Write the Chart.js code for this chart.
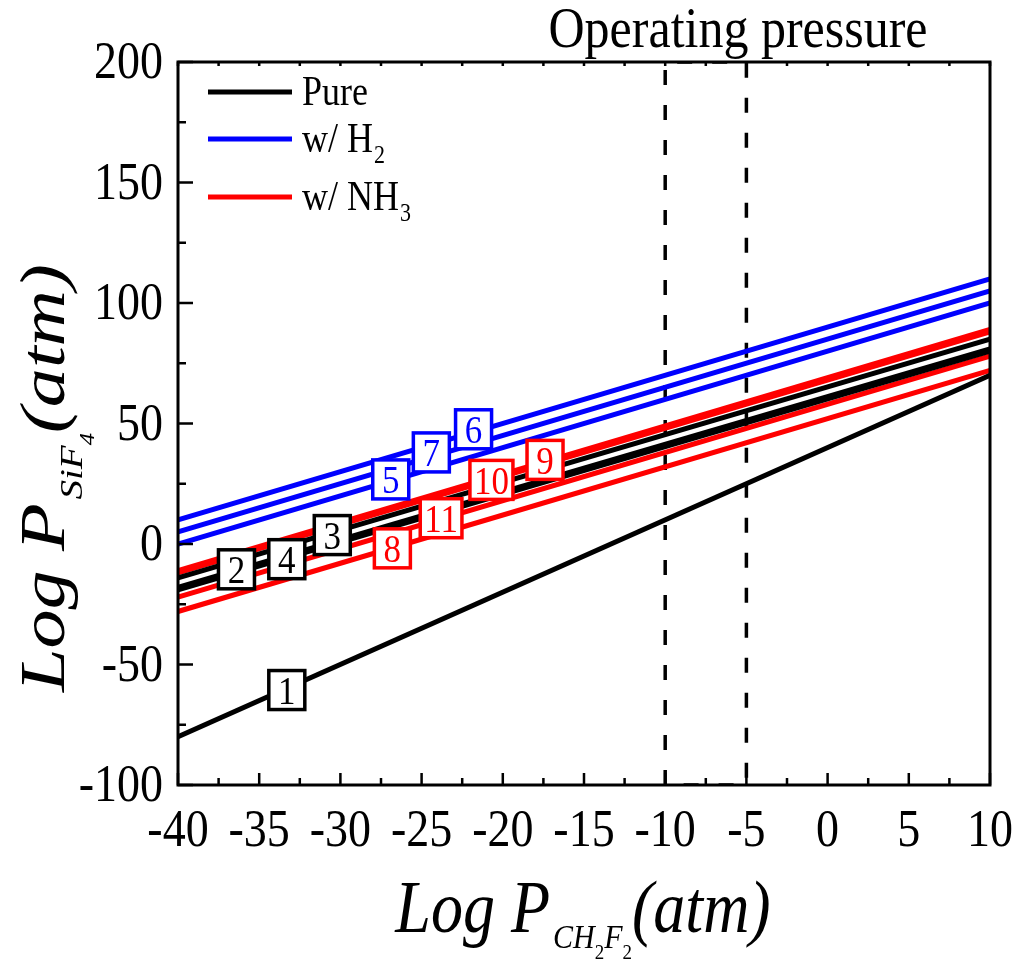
<!DOCTYPE html>
<html>
<head>
<meta charset="utf-8">
<script src="https://cdn.jsdelivr.net/npm/chart.js@4"></script>
<style>
html, body { margin: 0; padding: 0; background: #fff; }
</style>
</head>
<body>
<canvas id="chart" width="1017" height="960"></canvas>
<script>
// Log P(SiF4) vs Log P(CH2F2) - equilibrium lines

const lineX = [-40, 10];

// pure (black), w/ H2 (blue), w/ NH3 (red): value at x=-40 and at x=10
const pureStart = [-80, -18, -14, -19];
const pureEnd = [70, 81, 85, 80];
const h2Start = [0, 10, 5];
const h2End = [100, 110, 105];
const nh3Start = [-28, -11, -12, -22];
const nh3End = [72, 89, 88, 78];

// numbered boxes on the lines
const labelText = ['1', '2', '3', '4', '5', '6', '7', '8', '9', '10', '11'];
const labelX = [-33.3, -36.4, -30.5, -33.3, -26.9, -21.8, -24.4, -26.8, -17.4, -20.7, -23.8];
const labelY = [-60.6, -10.5, 3.7, -6.3, 26.8, 47.6, 38, -1.8, 34.9, 26.6, 10.7];
const labelGroup = ['pure', 'pure', 'pure', 'pure', 'h2', 'h2', 'h2', 'nh3', 'nh3', 'nh3', 'nh3'];

// operating pressure window
const opX = [-10, -5];
const yRange = [-100, 200];

const xTicks = [-40, -35, -30, -25, -20, -15, -10, -5, 0, 5, 10];
const yTicks = [-100, -50, 0, 50, 100, 150, 200];

const legendNames = ['Pure', 'w/ H', 'w/ NH'];
const legendSubs = ['', '2', '3'];

const COLORS = { pure: '#000000', h2: '#0000ff', nh3: '#ff0000' };
const FONT = '"Liberation Serif", "Times New Roman", serif';
const STRETCH = 1.15; // the original figure text is a bit taller than wide

function makeLines(starts, ends, color) {
    return starts.map((s, i) => ({
        data: [{ x: lineX[0], y: s }, { x: lineX[1], y: ends[i] }],
        borderColor: color,
        borderWidth: 5,
        showLine: true,
        pointRadius: 0,
        fill: false
    }));
}

const datasets = [].concat(
    makeLines(pureStart, pureEnd, COLORS.pure),
    makeLines(h2Start, h2End, COLORS.h2),
    makeLines(nh3Start, nh3End, COLORS.nh3),
    [{
        data: [
            { x: opX[0], y: yRange[0] }, { x: opX[0], y: yRange[1] },
            { x: opX[1], y: yRange[1] }, { x: opX[1], y: yRange[0] },
            { x: opX[0], y: yRange[0] }
        ],
        borderColor: '#000',
        borderWidth: 3.5,
        borderDash: [15, 20],
        showLine: true,
        pointRadius: 0,
        fill: false
    }]
);

function fontStr(size, italic) {
    return (italic ? 'italic ' : '') + size + 'px ' + FONT;
}

// single text, stretched vertically (screen) by STRETCH
function drawText(ctx, text, x, y, size, align) {
    ctx.save();
    ctx.translate(x, y);
    ctx.scale(1, STRETCH);
    ctx.font = fontStr(size, false);
    ctx.textAlign = align;
    ctx.textBaseline = 'alphabetic';
    ctx.fillText(text, 0, 0);
    ctx.restore();
}

// pieces [text, size, dy, italic], centred at x; sx/sy stretch in text frame
function drawRich(ctx, parts, x, y, sx, sy) {
    let total = 0;
    parts.forEach(p => {
        ctx.font = fontStr(p[1], p[3]);
        p.w = ctx.measureText(p[0]).width;
        total += p.w;
    });
    ctx.save();
    ctx.translate(x, y);
    ctx.scale(sx, sy);
    let cx = -total / 2;
    ctx.textAlign = 'left';
    ctx.textBaseline = 'alphabetic';
    parts.forEach(p => {
        ctx.font = fontStr(p[1], p[3]);
        ctx.fillText(p[0], cx, p[2] / sy);
        cx += p.w;
    });
    ctx.restore();
}

const decorPlugin = {
    id: 'decor',
    afterDatasetsDraw(chart) {
        const ctx = chart.ctx;
        const a = chart.chartArea;
        const xs = chart.scales.x;
        const ys = chart.scales.y;
        ctx.save();

        // frame
        ctx.strokeStyle = '#000';
        ctx.lineWidth = 3;
        ctx.strokeRect(a.left, a.top, a.right - a.left, a.bottom - a.top);

        // inward ticks
        ctx.lineWidth = 2.5;
        ctx.beginPath();
        for (let v = -40; v <= 10; v += 2.5) {
            const px = xs.getPixelForValue(v);
            const major = v % 5 === 0;
            ctx.moveTo(px, a.bottom);
            ctx.lineTo(px, a.bottom - (major ? 12 : 7));
            ctx.moveTo(px, a.top);
            ctx.lineTo(px, a.top + 4);
        }
        for (let v = -100; v <= 200; v += 25) {
            const py = ys.getPixelForValue(v);
            const major = v % 50 === 0;
            ctx.moveTo(a.left, py);
            ctx.lineTo(a.left + (major ? 15 : 8), py);
        }
        ctx.stroke();

        // tick labels
        ctx.fillStyle = '#000';
        xTicks.forEach(v => drawText(ctx, String(v), xs.getPixelForValue(v), a.bottom + 61, 46, 'center'));
        yTicks.forEach(v => drawText(ctx, String(v), 163, ys.getPixelForValue(v) + 16, 46, 'right'));

        // numbered boxes
        labelText.forEach((t, i) => {
            const px = xs.getPixelForValue(labelX[i]);
            const py = ys.getPixelForValue(labelY[i]);
            ctx.font = fontStr(35, false);
            const w = Math.max(36, ctx.measureText(t).width + 8);
            const h = 39;
            const color = COLORS[labelGroup[i]];
            ctx.fillStyle = '#fff';
            ctx.fillRect(px - w / 2, py - h / 2, w, h);
            ctx.strokeStyle = color;
            ctx.lineWidth = 3.5;
            ctx.strokeRect(px - w / 2, py - h / 2, w, h);
            ctx.fillStyle = color;
            drawText(ctx, t, px, py + 14, 35, 'center');
        });

        // legend
        const legY = [92, 139, 197];
        const legColors = [COLORS.pure, COLORS.h2, COLORS.nh3];
        legendNames.forEach((name, i) => {
            ctx.strokeStyle = legColors[i];
            ctx.lineWidth = 5;
            ctx.beginPath();
            ctx.moveTo(208, legY[i]);
            ctx.lineTo(292, legY[i]);
            ctx.stroke();
            ctx.fillStyle = '#000';
            drawText(ctx, name, 302, legY[i] + 13, 36, 'left');
            if (legendSubs[i]) {
                ctx.font = fontStr(36, false);
                const w = ctx.measureText(name).width;
                drawText(ctx, legendSubs[i], 302 + w + 1, legY[i] + 24, 22, 'left');
            }
        });

        // operating pressure caption
        ctx.fillStyle = '#000';
        drawText(ctx, 'Operating pressure', 738, 47, 50, 'center');

        // x axis title
        drawRich(ctx, [
            ['Log P', 64, 0, true],
            [' ', 12, 0, true],
            ['CH', 30, 16, true],
            ['2', 19, 27, false],
            ['F', 30, 16, true],
            ['2', 19, 27, false],
            ['(atm)', 64, 0, true]
        ], 583, 932, 1, STRETCH);

        // y axis title (rotated; stretch runs along the text)
        ctx.translate(64, 478);
        ctx.rotate(-Math.PI / 2);
        drawRich(ctx, [
            ['Log P', 64, 0, true],
            [' ', 12, 0, true],
            ['SiF', 32, 18, true],
            ['4', 20, 30, true],
            ['(atm)', 64, 0, true]
        ], 0, 0, 1.22, 1);

        ctx.restore();
    }
};

new Chart(document.getElementById('chart'), {
    type: 'scatter',
    data: { datasets: datasets },
    options: {
        responsive: false,
        animation: false,
        events: [],
        layout: { padding: { left: 0, top: 62, right: 27, bottom: 0 } },
        plugins: {
            legend: { display: false },
            tooltip: { enabled: false }
        },
        scales: {
            x: {
                type: 'linear',
                min: lineX[0],
                max: lineX[1],
                afterBuildTicks: s => { s.ticks = xTicks.map(v => ({ value: v })); },
                afterFit: s => { s.height = 175; },
                ticks: { display: false },
                grid: { drawOnChartArea: false, drawTicks: false },
                border: { display: false }
            },
            y: {
                type: 'linear',
                min: yRange[0],
                max: yRange[1],
                afterBuildTicks: s => { s.ticks = yTicks.map(v => ({ value: v })); },
                afterFit: s => { s.width = 178; },
                ticks: { display: false },
                grid: { drawOnChartArea: false, drawTicks: false },
                border: { display: false }
            }
        }
    },
    plugins: [decorPlugin]
});
</script>
</body>
</html>
